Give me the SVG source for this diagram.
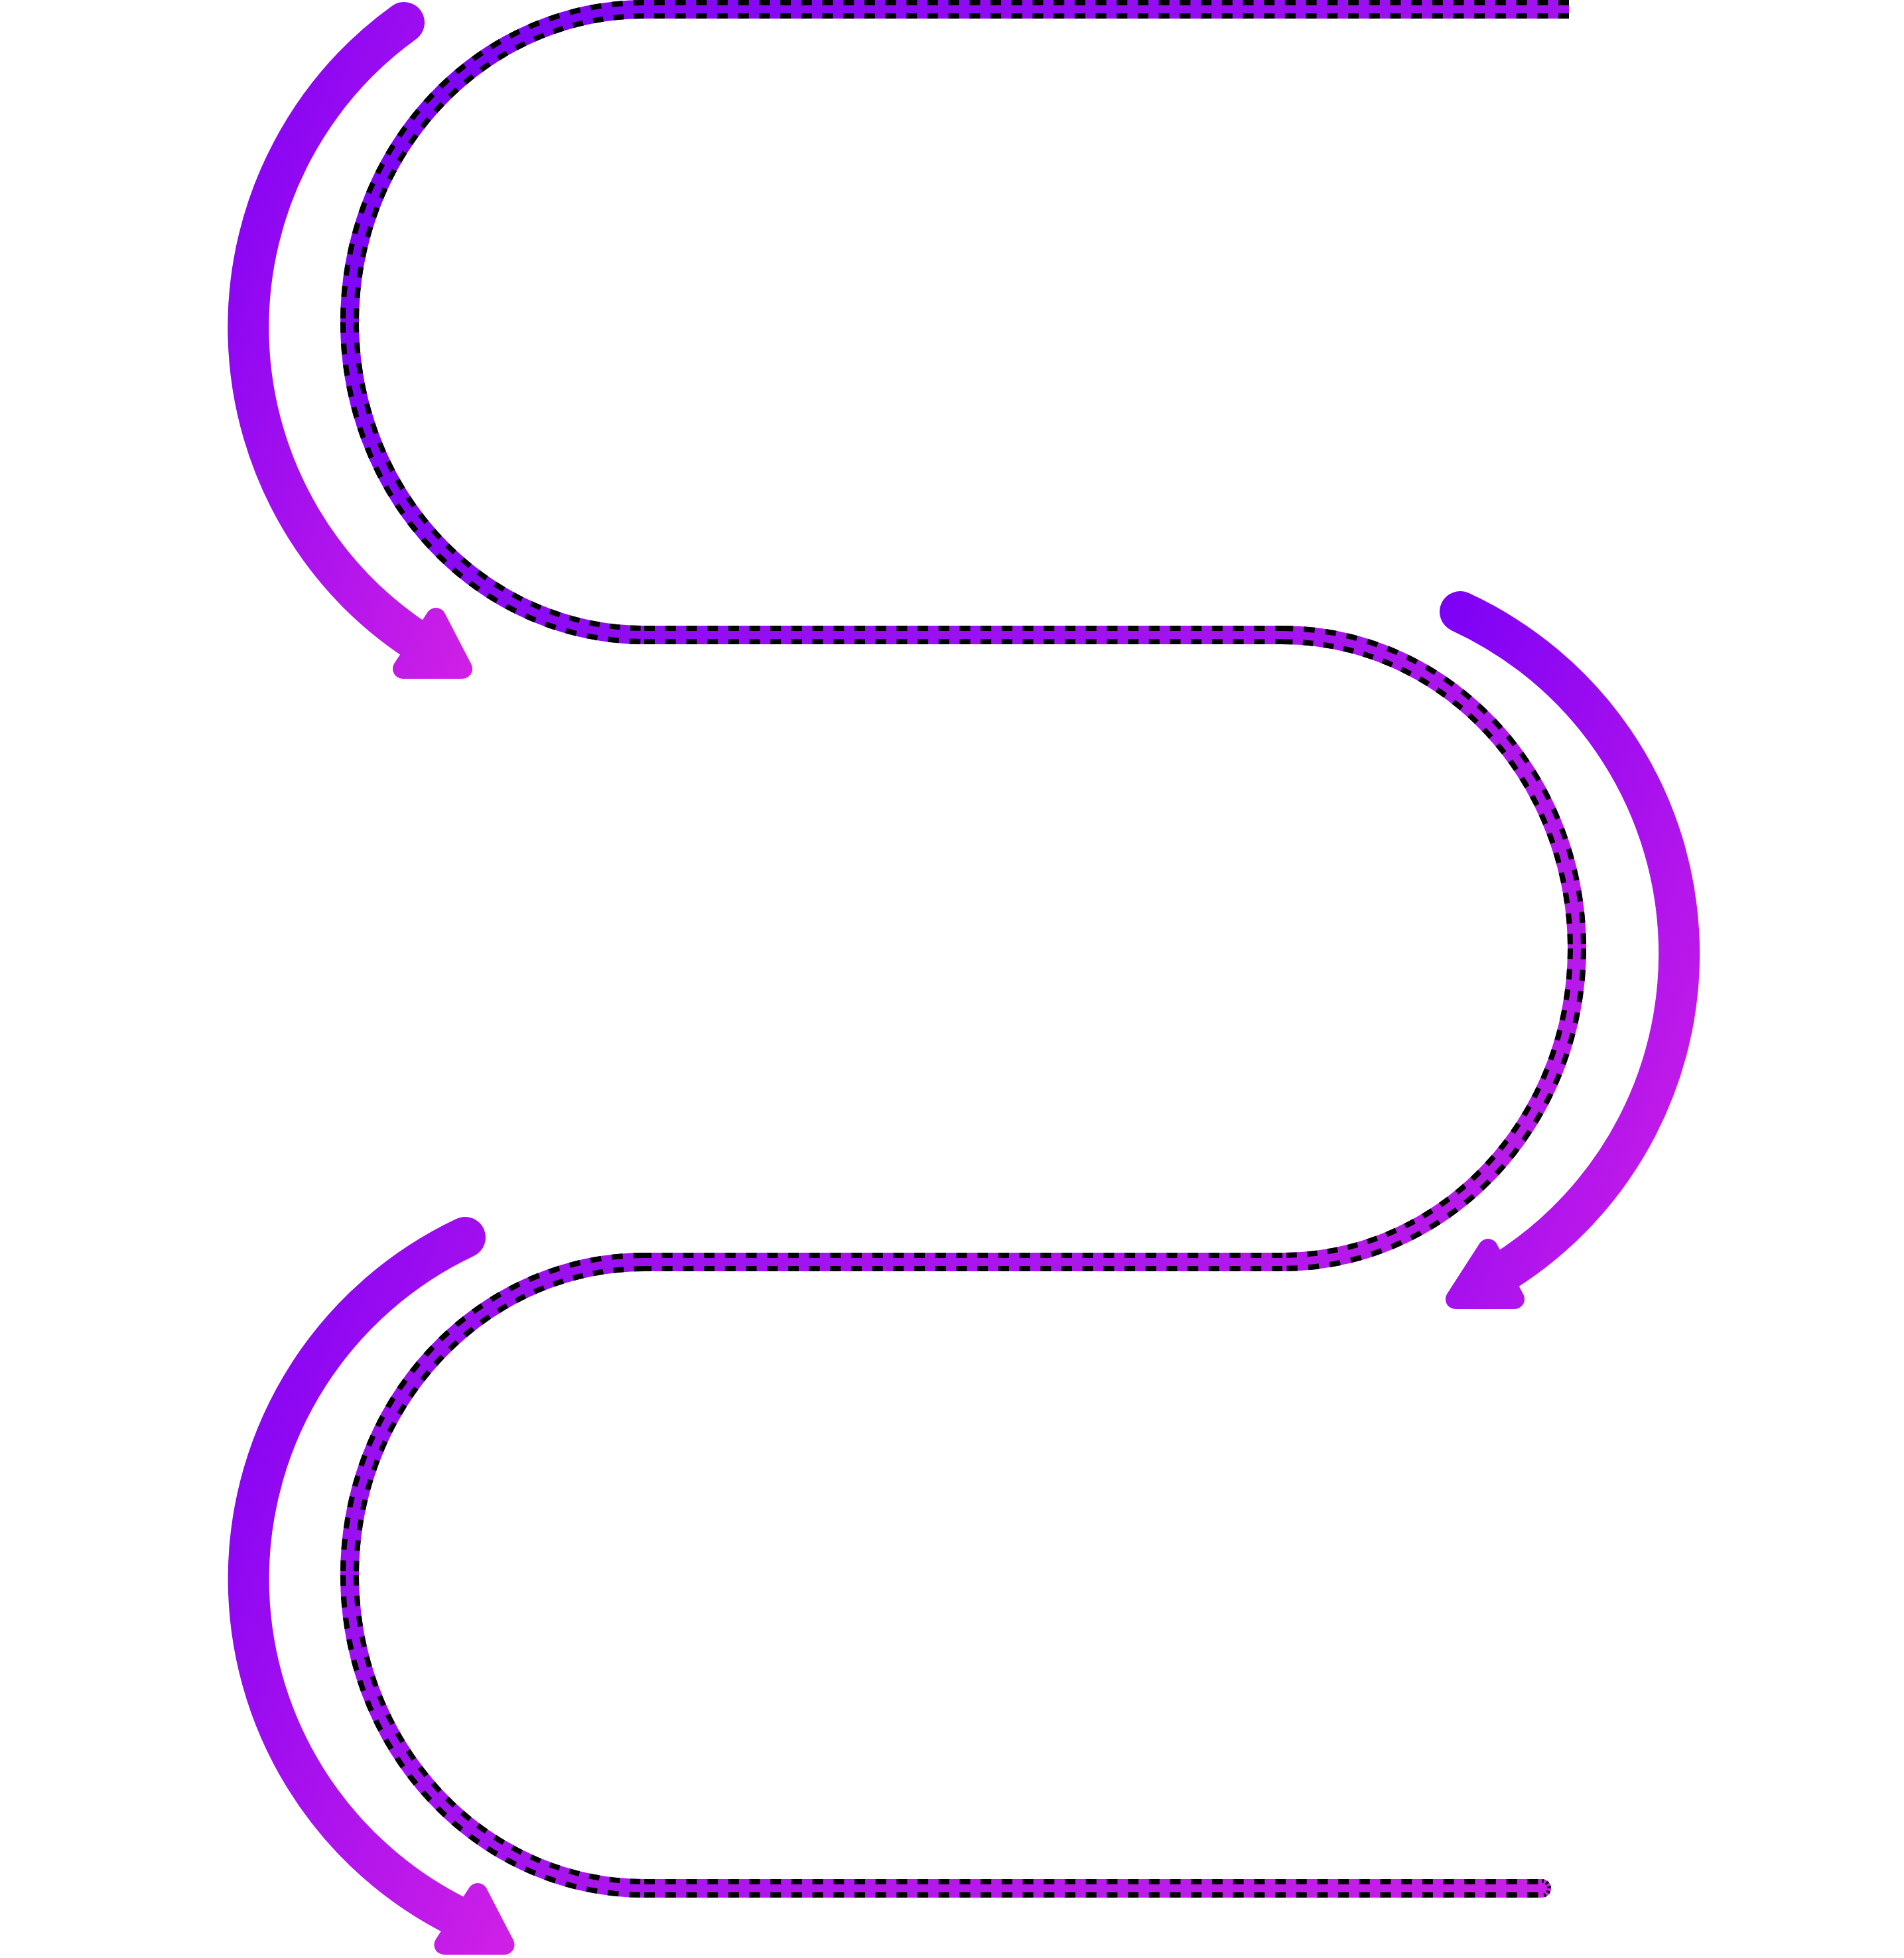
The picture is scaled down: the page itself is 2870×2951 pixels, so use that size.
<svg xmlns="http://www.w3.org/2000/svg" width="2870" height="2951" viewBox="0 0 2870 2951">
<defs>
  <linearGradient id="trackGrad" gradientUnits="userSpaceOnUse" x1="0" y1="0" x2="3296" y2="2090">
    <stop offset="0" stop-color="#6e00f8"/>
    <stop offset="0.5" stop-color="#a012ee"/>
    <stop offset="1" stop-color="#d224e4"/>
  </linearGradient>
  <linearGradient id="g1" gradientUnits="userSpaceOnUse" x1="342" y1="3" x2="996" y2="240">
    <stop offset="0" stop-color="#7a00f6"/>
    <stop offset="1" stop-color="#d020e6"/>
  </linearGradient>
  <linearGradient id="g2" gradientUnits="userSpaceOnUse" x1="2169" y1="891" x2="2861" y2="1141">
    <stop offset="0" stop-color="#7a00f6"/>
    <stop offset="1" stop-color="#d020e6"/>
  </linearGradient>
  <linearGradient id="g3" gradientUnits="userSpaceOnUse" x1="342" y1="1834" x2="1095" y2="2128">
    <stop offset="0" stop-color="#7a00f6"/>
    <stop offset="1" stop-color="#d020e6"/>
  </linearGradient>
</defs>
<style>
  .band{fill:none;stroke:url(#trackGrad);stroke-width:28;stroke-linecap:butt}
  .dash{fill:none;stroke:#000;stroke-width:28;stroke-dasharray:16 15.7;stroke-linecap:butt}
  .core{fill:none;stroke:url(#trackGrad);stroke-width:12;stroke-linecap:butt}
  .ticks{fill:none;stroke:#000;stroke-width:6;stroke-dasharray:3 4}
  .shaft{fill:none;stroke-width:62;stroke-linecap:round}
  .head{stroke-width:30;stroke-linejoin:round}
</style>
<rect width="2870" height="2951" fill="#ffffff"/>

<g id="connectors">
  <g id="track">
    <path class="band" d="M2365,14 H971 A444,471.5 0 0 0 971,957 H1933 A444,472.5 0 0 1 1933,1902 H971 A444,472 0 0 0 971,2846 H2324"/>
    <circle cx="2324" cy="2846" r="14" fill="url(#trackGrad)"/>
    <path class="dash" d="M2365,14 H971 M971,14 A444,471.5 0 0 0 527,485.5 M527,485.5 A444,471.5 0 0 0 971,957 M971,957 H1933 M1933,957 A444,472.5 0 0 1 2377,1429.5 M2377,1429.5 A444,472.5 0 0 1 1933,1902 M1933,1902 H971 M971,1902 A444,472 0 0 0 527,2374 M527,2374 A444,472 0 0 0 971,2846 M971,2846 H2324"/>
    <path class="ticks" d="M2324,2835 A11,11 0 0 1 2324,2857"/>
    <path class="core" d="M2365,14 H971 A444,471.5 0 0 0 971,957 H1933 A444,472.5 0 0 1 1933,1902 H971 A444,472 0 0 0 971,2846 H2324"/>
    <circle cx="2324" cy="2846" r="6" fill="url(#trackGrad)"/>
  </g>
</g>

<g id="arrow-1">
  <path class="shaft" stroke="url(#g1)" d="M609,34 A567,567 0 0 0 631,968"/>
  <polygon class="head" fill="url(#g1)" stroke="url(#g1)" points="607,1008 697,1008 657,931"/>
</g>

<g id="arrow-2">
  <path class="shaft" stroke="url(#g2)" d="M2201,922 A567,567 0 0 1 2263,1919"/>
  <polygon class="head" fill="url(#g2)" stroke="url(#g2)" points="2194,1958 2283,1958 2243,1882"/>
</g>

<g id="arrow-3">
  <path class="shaft" stroke="url(#g3)" d="M701,1865 A569,569 0 0 0 694,2891"/>
  <polygon class="head" fill="url(#g3)" stroke="url(#g3)" points="669.5,2931 760.5,2931 720,2853"/>
</g>
</svg>
